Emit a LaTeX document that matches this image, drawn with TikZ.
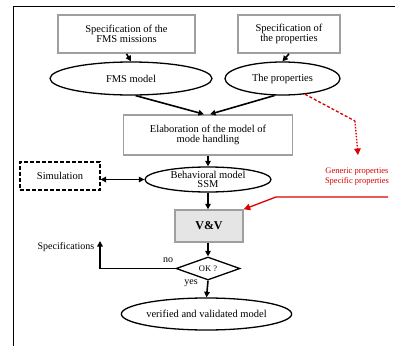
\documentclass[tikz,border=0pt]{standalone}
\usepackage{fontspec}
\setmainfont{Liberation Serif}
\usepackage{tikz}
\usetikzlibrary{arrows.meta,shapes.geometric,calc}
\providecommand{\fmsStroke}{black}
\providecommand{\fmsBoxLine}{gray!75}
\providecommand{\fmsRed}{red!85!black}
\tikzset{
  >={Triangle[length=5.5pt,width=5.5pt]},
  blk/.style 2 args={draw=\fmsBoxLine,line width=1.6pt,fill=white,minimum width=#1,minimum height=#2,align=center,inner sep=1pt,font=\fontsize{10.5}{10.5}\selectfont},
  oval/.style 2 args={draw=\fmsStroke,ellipse,line width=1.3pt,minimum width=#1,minimum height=#2,align=center,inner sep=0pt,font=\fontsize{10.5}{9}\selectfont},
  simbox/.style 2 args={draw=\fmsStroke,dash pattern=on 4pt off 2pt,line width=1.1pt,minimum width=#1,minimum height=#2,font=\fontsize{10.5}{10}\selectfont},
  vvbox/.style 2 args={draw=\fmsBoxLine,line width=1.4pt,fill=gray!20,minimum width=#1,minimum height=#2,font=\fontsize{12}{12}\selectfont\bfseries},
  test/.style 2 args={draw=\fmsStroke,diamond,line width=1.3pt,aspect=2.8,minimum width=#1,minimum height=#2,inner sep=0pt,font=\fontsize{8.5}{9}\selectfont},
  lbl/.style={inner sep=0pt,font=\fontsize{10}{10}\selectfont},
  redlbl/.style={inner sep=0pt,align=center,text=\fmsRed,font=\fontsize{8.5}{10}\selectfont},
  conn/.style={->,line width=1.6pt,draw=\fmsStroke},
  redconn/.style={->,line width=1.3pt,draw=\fmsRed,>={Triangle[length=6.5pt,width=6.5pt]}},
}
\begin{document}
\begin{tikzpicture}[x=1pt,y=-1pt]
% --- Frame -----------------------------------------------------------------
  \useasboundingbox (0,0) rectangle (400,346);
  \draw[line width=0.9pt] (13,346) -- (13,6) -- (395,6);

% --- Primitive nodes -------------------------------------------------------

  \node[blk={137pt}{38pt}] (spec1) at (126.5,34) {Specification of the\\FMS missions};

  \node[blk={102pt}{38pt}] (spec2) at (289,34) {Specification of\\the properties};

  \node[oval={162pt}{33pt}] (fms) at (131,78.5) {FMS model};

  \node[oval={115pt}{33pt}] (props) at (282.5,78.5) {The properties};

  \node[blk={169pt}{40pt}] (elab) at (208,135) {Elaboration of the model of\\mode handling};

  \node[oval={126pt}{25pt}] (behav) at (208,179.5) {Behavioral model\\SSM};

  \node[simbox={80pt}{28pt}] (sim) at (60,176) {Simulation};

  \node[vvbox={68pt}{32pt}] (vv) at (209,226) {V\&V};

  \node[test={64pt}{23pt}] (ok) at (208,268.5) {OK ?};

  \node[oval={169pt}{32pt}] (final) at (206.5,314) {verified and validated model};

  \node[lbl] (specs) at (66,247) {Specifications};

  \node[lbl] (no) at (168,260) {no};

  \node[lbl] (yes) at (191,283) {yes};

  \node[redlbl] (genspec) at (357,177) {Generic properties\\Specific properties};

  \coordinate (back) at (100,241);
  \coordinate (bend) at (355,121);
  \coordinate (redtip) at (358,155);
  \coordinate (redstart) at (388,197);
  \coordinate (redknee) at (276,197);

% --- Edges -----------------------------------------------------------------

  \draw[conn] (spec1.south) -- (fms.north);

  \draw[conn] (spec2.south) -- (props.north);

  \draw[conn] (fms.-75) -- ($(elab.north)+(-4,0)$);

  \draw[conn] (props.-115) -- ($(elab.north)+(2,0)$);

  \draw[conn] (elab.south) -- (behav.north);

  \draw[conn,<->] (sim.east |- behav) -- (behav.west);

  \draw[conn] (behav.south) -- (vv.north -| behav.south);

  \draw[conn] (vv.south -| ok.north) -- (ok.north);

  \draw[conn] (ok.south) -- (final.north);

  \draw[conn] (ok.west) -| (back);

  \draw[redconn,-,dash pattern=on 3pt off 2pt] (props.-35) -- (bend);
  \draw[redconn,dash pattern=on 1.5pt off 1.5pt] (bend) -- (redtip);

  \draw[redconn] (redstart) -- (redknee) -- (vv.north east);

\end{tikzpicture}
\end{document}
